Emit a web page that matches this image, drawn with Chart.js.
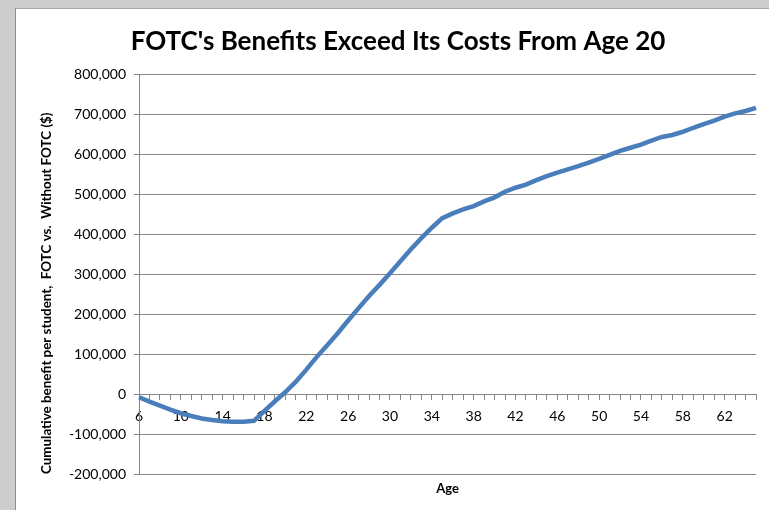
<!DOCTYPE html>
<html>
<head>
<meta charset="utf-8">
<script src="https://cdn.jsdelivr.net/npm/chart.js@4/dist/chart.umd.min.js"></script>
<style>
  html, body { margin: 0; padding: 0; background: #cdcdcd; width: 769px; height: 510px; overflow: hidden; }
  #frame { position: absolute; left: 15px; top: 8px; right: 0; bottom: 0; background: #fff;
           border-left: 1px solid #8c8c8c; border-top: 1px solid #a6a6a6; }
  #wrap { position: absolute; left: 0; top: 0; width: 769px; height: 510px; }
</style>
</head>
<body>
<div id="frame"></div>
<div id="wrap"><canvas id="c" width="769" height="510"></canvas></div>
<script>
"use strict";

// cumulative benefit per student (FOTC vs. without), by age
const ages = [];
for (let a = 6; a <= 65; a++) ages.push(a);
const benefit = [
  -8000, -19000, -29000, -39000, -48000, -55000, -61000, -65000, -68000, -69000,   // 6-15
  -69000, -67000, -42000, -18000, 5000, 31000, 61000, 93000, 122000, 152000,       // 16-25
  184000, 215000, 245000, 273000, 302000, 332000, 362000, 390000, 416000, 440000,  // 26-35
  452000, 462000, 470000, 482000, 492000, 506000, 516000, 524000, 535000, 545000,  // 36-45
  554000, 562000, 570000, 579000, 588000, 598000, 608000, 616000, 624000, 634000,  // 46-55
  643000, 648000, 656000, 666000, 675000, 684000, 694000, 702000, 708000, 716000   // 56-65
];
const yTicks = { min: -200000, max: 800000, step: 100000 };

const FONT = "Lato, 'Open Sans', sans-serif";
const C_LINE = "#4a7ebb";
const C_GRID = "#868686";

new Chart(document.getElementById("c").getContext("2d"), {
  type: "line",
  data: {
    labels: ages,
    datasets: [{
      data: benefit,
      borderColor: C_LINE,
      borderWidth: 4.5,
      pointRadius: 0,
      tension: 0,
      fill: false,
      clip: false,
    }],
  },
  options: {
    responsive: false,
    animation: false,
    layout: { padding: { left: 40, right: 13, top: 0, bottom: 0 } },
    plugins: {
      legend: { display: false },
      tooltip: { enabled: false },
      title: {
        display: true,
        text: "FOTC's Benefits Exceed Its Costs From Age 20",
        color: "#000",
        font: { family: FONT, size: 26, weight: "bold" },
        padding: { top: 26, bottom: 17 },
      },
    },
    scales: {
      x: {
        type: "category",
        position: { y: 0 },
        offset: false,
        grid: { drawOnChartArea: false, drawTicks: true, tickLength: 5, color: C_GRID },
        border: { display: true, color: C_GRID, width: 1 },
        ticks: {
          autoSkip: false,
          maxRotation: 0,
          padding: 9,
          color: "#000",
          font: { family: FONT, size: 14 },
          callback: (v, i) => ((ages[i] - 6) % 4 === 0 ? String(ages[i]) : ""),
        },
      },
      x2: {
        type: "category",
        position: "bottom",
        grid: { display: false },
        border: { display: false },
        ticks: { display: false },
        title: {
          display: true,
          text: "Age",
          color: "#000",
          font: { family: FONT, size: 13, weight: "bold" },
          padding: { top: 0, bottom: 13 },
        },
        afterFit: (s) => { s.height = 36; },
      },
      y: {
        min: yTicks.min,
        max: yTicks.max,
        grid: { color: C_GRID, tickLength: 5 },
        border: { display: true, color: C_GRID, width: 1 },
        ticks: {
          stepSize: yTicks.step,
          padding: 8,
          color: "#000",
          font: { family: FONT, size: 14 },
          callback: (v) => Number(v).toLocaleString("en-US"),
        },
        title: {
          display: true,
          text: "Cumulative benefit per student,  FOTC vs.  Without FOTC ($)",
          align: "start",
          color: "#000",
          font: { family: FONT, size: 13.4, weight: "bold" },
          padding: { top: -1, bottom: 0 },
        },
        afterFit: (s) => { s.width = 99; },
      },
    },
  },
});
</script>
</body>
</html>
